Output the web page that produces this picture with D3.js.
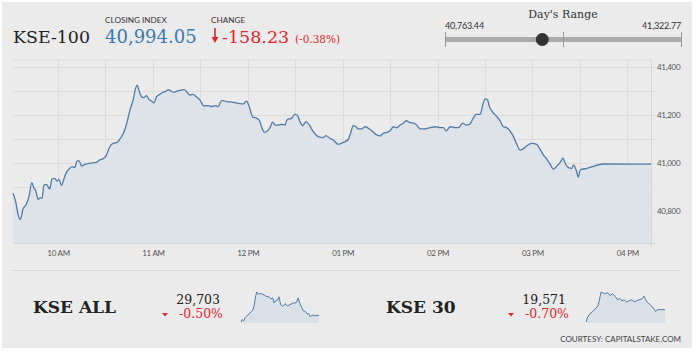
<!DOCTYPE html>
<html><head><meta charset="utf-8">
<script src="https://cdn.jsdelivr.net/npm/d3@7"></script>
<style>
html,body{margin:0;padding:0;background:#fff;}
svg{display:block;}
.sans{font-family:Lato,"Open Sans",sans-serif;}
.serif{font-family:"DejaVu Serif",serif;}
</style></head>
<body>
<svg id="c" width="696" height="353"></svg>
<script>
// ---------- data ----------
const indexName = "KSE-100";
const closingIndex = 40994.05;
const change = -158.23;
const changePct = -0.38;
const dayLow = 40763.44;
const dayHigh = 41322.77;

// minutes after 09:30 market open
const minutesFromOpen = [1.5,3.2,4.7,6.2,7.8,10,11.6,13.4,14.8,15.9,17.3,18.9,19.9,21.1,22.7,23.7,24.7,26.2,27.9,29.4,30.6,32.2,33.8,35.3,37.4,39.1,40.6,42,43.3,44.8,46.3,48,50.1,52.2,54.3,56.4,58.9,60.6,62.7,64.8,67.3,69.5,71.6,73.7,75.8,77.5,79,80,81.3,82.8,84.2,85.9,87.4,89.1,90.8,92.3,94.4,96.5,98.6,99.6,101.3,102.8,104.5,107,109.7,111.6,113.4,115.4,117.6,119.7,122.2,125,127.1,129.2,131.3,133.5,136.6,140.8,145,147.1,149.2,150.9,153,155.6,157.2,158.7,160.4,161.9,164,165.7,167.2,169.3,171.4,173.5,174.9,177.7,179.8,181.5,183,184.7,186.8,188.9,191.4,194.6,197.7,199.4,201.9,204,207.2,210.4,213.5,215,216.7,218.4,219.9,222,224.1,226.2,228.4,231.5,233.6,235.7,237.9,240,242.1,244.2,246.3,248.4,250.1,252.7,254.8,256.8,259,262.1,265.3,268.5,271.6,273.7,275.4,278,281.1,283.2,286,288.1,290.2,292.3,294.4,297,298.6,300.1,301.6,302.8,305,307.5,309.6,311.6,313.8,315.9,318,320.1,322.2,323.9,326.5,329.6,332.8,334.5,337,339.1,341.2,343.3,345.5,347.6,349.3,350.7,352.8,355,356,357.7,359.1,360.2,364.4,374.9,405];
const indexValues = [40873,40838,40785,40764,40807,40828,40859,40917,40894,40884,40848,40855,40852,40907,40910,40900,40891,40933,40935,40924,40931,40905,40935,40960,40977,40984,40980,41008,41008,40987,40991,40995,40998,41000,41002,41012,41019,41032,41067,41081,41085,41102,41127,41171,41227,41262,41310,41322.77,41299,41275,41271,41280,41265,41257,41250,41275,41285,41294,41299,41305,41299,41294,41296,41302,41305,41294,41282,41285,41274,41262,41237,41238,41234,41238,41234,41260,41255,41252,41246,41245,41257,41234,41192,41185,41178,41150,41127,41130,41146,41169,41157,41157,41160,41157,41180,41185,41203,41196,41171,41155,41171,41157,41130,41109,41105,41113,41102,41095,41077,41085,41097,41123,41155,41150,41141,41141,41150,41144,41133,41116,41112,41123,41127,41133,41150,41146,41157,41165,41175,41167,41165,41157,41141,41141,41146,41150,41146,41146,41133,41150,41146,41146,41165,41157,41160,41182,41202,41202,41241,41266,41262,41234,41210,41192,41174,41150,41146,41132,41109,41077,41053,41057,41071,41081,41077,41060,41032,41015,40994,40974,40987,41002,41019,40998,40980,40977,40991,40970,40940,40970,40977,40995,40994.05];

const yTickValues = [40800,41000,41200,41400];

const subNames = ["KSE ALL","KSE 30"];
const subValues = ["29,703","19,571"];
const subChanges = ["-0.50%","-0.70%"];

const kseAllMinutes = [0,5,14,22,34,45,53,62,69,76,82,91,100,113,125,134,142,154,165,172,182,190,197,206,216,228,240,254,268,280,288,297,305,314,323,335,343,352,360,369,383,405];
const kseAllValues = [29619,29650,29633,29677,29707,29729,29751,29773,29839,29949,30002,29971,29985,29971,29958,29941,29949,29914,29927,29861,29897,29897,29941,29839,29817,29853,29826,29839,29861,29861,29870,29927,29861,29809,29765,29751,29721,29729,29685,29707,29703,29703];
const kse30Minutes = [0,9,20,34,48,60,68,77,85,99,111,123,136,150,162,174,184,196,208,221,235,247,259,272,286,298,306,315,327,337,349,357,366,383,405];
const kse30Values = [19466,19511,19535,19556,19577,19601,19646,19721,19715,19706,19715,19691,19706,19685,19655,19667,19646,19655,19637,19646,19655,19637,19646,19655,19661,19685,19655,19631,19616,19601,19577,19556,19571,19571,19571];

const courtesy = "COURTESY: CAPITALSTAKE.COM";

// ---------- drawing ----------
const RED = "#e3262d", BLUE = "#3a78b2", LINE = "#4f7ba6", AREA = "#dee3e9", GRID = "#dcdcdc";
const hy = s => s.replace(/\u2212/g,"-");
const svg = d3.select("#c");
svg.append("rect").attr("x",2).attr("y",2).attr("width",690).attr("height",346).attr("fill","#ebebeb");

const open = new Date(2019,0,1,9,30);
const toDate = m => new Date(open.getTime() + m*60000);
const data = minutesFromOpen.map((m,i)=>({t:toDate(m), v:indexValues[i]}));

const L=13, R=651, T=60, B=243;
const x = d3.scaleTime().domain([toDate(minutesFromOpen[0]), toDate(minutesFromOpen[minutesFromOpen.length-1])]).range([L,R]);
const y = d3.scaleLinear().domain([40666,41428]).range([B,T]);

// grid
const g = svg.append("g");
g.append("line").attr("x1",L).attr("x2",R).attr("y1",T).attr("y2",T).attr("stroke",GRID);
g.selectAll(".hg").data(d3.range(40700,41401,100)).join("line")
  .attr("x1",L).attr("x2",R+3).attr("y1",d=>Math.round(y(d))+0.5).attr("y2",d=>Math.round(y(d))+0.5)
  .attr("stroke",GRID);
g.selectAll(".vg").data(x.ticks(d3.timeMinute.every(30))).join("line")
  .attr("x1",d=>Math.round(x(d))+0.5).attr("x2",d=>Math.round(x(d))+0.5).attr("y1",T).attr("y2",B)
  .attr("stroke",GRID);

// area + line
const area = d3.area().x(d=>x(d.t)).y0(B).y1(d=>y(d.v)).curve(d3.curveMonotoneX);
const line = d3.line().x(d=>x(d.t)).y(d=>y(d.v)).curve(d3.curveMonotoneX);
svg.append("path").datum(data).attr("d",area).attr("fill",AREA);
svg.append("path").datum(data).attr("d",line).attr("fill","none").attr("stroke",LINE).attr("stroke-width",1.3);

// axes borders
svg.append("line").attr("x1",L).attr("x2",R+4).attr("y1",B+0.5).attr("y2",B+0.5).attr("stroke","#d6d6d6");
svg.append("line").attr("x1",R+0.5).attr("x2",R+0.5).attr("y1",T).attr("y2",B+4).attr("stroke","#d6d6d6");

// x axis labels
const xa = svg.append("g").attr("transform",`translate(0,${B})`)
  .call(d3.axisBottom(x).ticks(d3.timeHour.every(1)).tickFormat(d3.timeFormat("%I %p")).tickSize(0).tickPadding(7));
xa.select(".domain").remove();
xa.selectAll("text").attr("class","sans").attr("font-size",8).attr("fill","#555").attr("letter-spacing",-0.3);

// y axis labels
const ya = svg.append("g").attr("transform",`translate(${R},0)`)
  .call(d3.axisRight(y).tickValues(yTickValues).tickFormat(d3.format(",")).tickSize(0).tickPadding(6));
ya.select(".domain").remove();
ya.selectAll("text").attr("class","sans").attr("font-size",8).attr("fill","#555").attr("letter-spacing",-0.3);

// header
svg.append("text").attr("class","serif").attr("x",13).attr("y",43).attr("font-size",17.4).attr("fill","#222").text(indexName);
svg.append("text").attr("class","sans").attr("x",105).attr("y",23).attr("font-size",8.2).attr("fill","#333").text("CLOSING INDEX");
svg.append("text").attr("class","serif").attr("x",105).attr("y",43).attr("font-size",18).attr("fill",BLUE).text(d3.format(",.2f")(closingIndex));
svg.append("text").attr("class","sans").attr("x",211).attr("y",23).attr("font-size",8.2).attr("fill","#333").text("CHANGE");
svg.append("path").attr("d","M214.2,28 L215.8,28 L215.8,37 L218.5,37 L215,43 L211.5,37 L214.2,37 Z").attr("fill",RED);
svg.append("text").attr("class","serif").attr("x",222).attr("y",43).attr("font-size",17.5).attr("fill",RED).text(hy(d3.format(".2f")(change)));
svg.append("text").attr("class","serif").attr("x",295).attr("y",42.5).attr("font-size",10.5).attr("fill",RED).text(`(${changePct.toFixed(2)}%)`);

// day's range
const rx = d3.scaleLinear().domain([dayLow,dayHigh]).range([445,681]);
svg.append("text").attr("class","serif").attr("x",563).attr("y",18).attr("text-anchor","middle").attr("font-size",11).attr("fill","#333").text("Day's Range");
svg.append("text").attr("class","sans").attr("x",445).attr("y",28.5).attr("font-size",9).attr("fill","#333").attr("letter-spacing",-0.2).text(d3.format(",.2f")(dayLow));
svg.append("text").attr("class","sans").attr("x",681).attr("y",28.5).attr("text-anchor","end").attr("font-size",9).attr("fill","#333").attr("letter-spacing",-0.2).text(d3.format(",.2f")(dayHigh));
svg.append("rect").attr("x",rx(dayLow)).attr("y",37).attr("width",rx(dayHigh)-rx(dayLow)).attr("height",5).attr("fill","#ababab");
svg.selectAll(".rt").data([dayLow,(dayLow+dayHigh)/2,dayHigh]).join("line")
  .attr("x1",d=>Math.round(rx(d))+0.5).attr("x2",d=>Math.round(rx(d))+0.5).attr("y1",32).attr("y2",47).attr("stroke","#9a9a9a");
svg.append("circle").attr("cx",rx(closingIndex)).attr("cy",39.5).attr("r",6.5).attr("fill","#333");

// bottom section
svg.append("line").attr("x1",13).attr("x2",681).attr("y1",270.5).attr("y2",270.5).attr("stroke","#d6d6d6").attr("stroke-width",1.2);

const subs = [
  {name:subNames[0], val:subValues[0], chg:subChanges[0], m:kseAllMinutes, v:kseAllValues, nx:33, vx:220, cx:223, tx:165, sx:[241,319]},
  {name:subNames[1], val:subValues[1], chg:subChanges[1], m:kse30Minutes, v:kse30Values, nx:386, vx:566, cx:569, tx:511, sx:[586,665]}
];
subs.forEach(s=>{
  svg.append("text").attr("class","serif").attr("x",s.nx).attr("y",313).attr("font-size",17).attr("font-weight","bold").attr("fill","#222").text(s.name);
  svg.append("text").attr("class","serif").attr("x",s.vx).attr("y",304).attr("text-anchor","end").attr("font-size",12.5).attr("fill","#222").text(s.val);
  svg.append("text").attr("class","serif").attr("x",s.cx).attr("y",318).attr("text-anchor","end").attr("font-size",12.5).attr("fill",RED).text(s.chg);
  svg.append("path").attr("d",`M${s.tx-3},313 L${s.tx+3},313 L${s.tx},316.5 Z`).attr("fill",RED);
  const sxs = d3.scaleLinear().domain([0,405]).range(s.sx);
  const sys = d3.scaleLinear().domain(d3.extent(s.v)).range([322,292]);
  const pts = s.m.map((m,i)=>[m,s.v[i]]);
  svg.append("path").datum(pts).attr("d",d3.area().x(d=>sxs(d[0])).y0(322.7).y1(d=>sys(d[1]))).attr("fill","#d9e0e8");
  svg.append("path").datum(pts).attr("d",d3.line().x(d=>sxs(d[0])).y(d=>sys(d[1]))).attr("fill","none").attr("stroke",LINE).attr("stroke-width",1);
});
svg.append("text").attr("class","sans").attr("x",681).attr("y",342).attr("text-anchor","end").attr("font-size",8).attr("fill","#444").text(courtesy);
</script>
</body></html>
